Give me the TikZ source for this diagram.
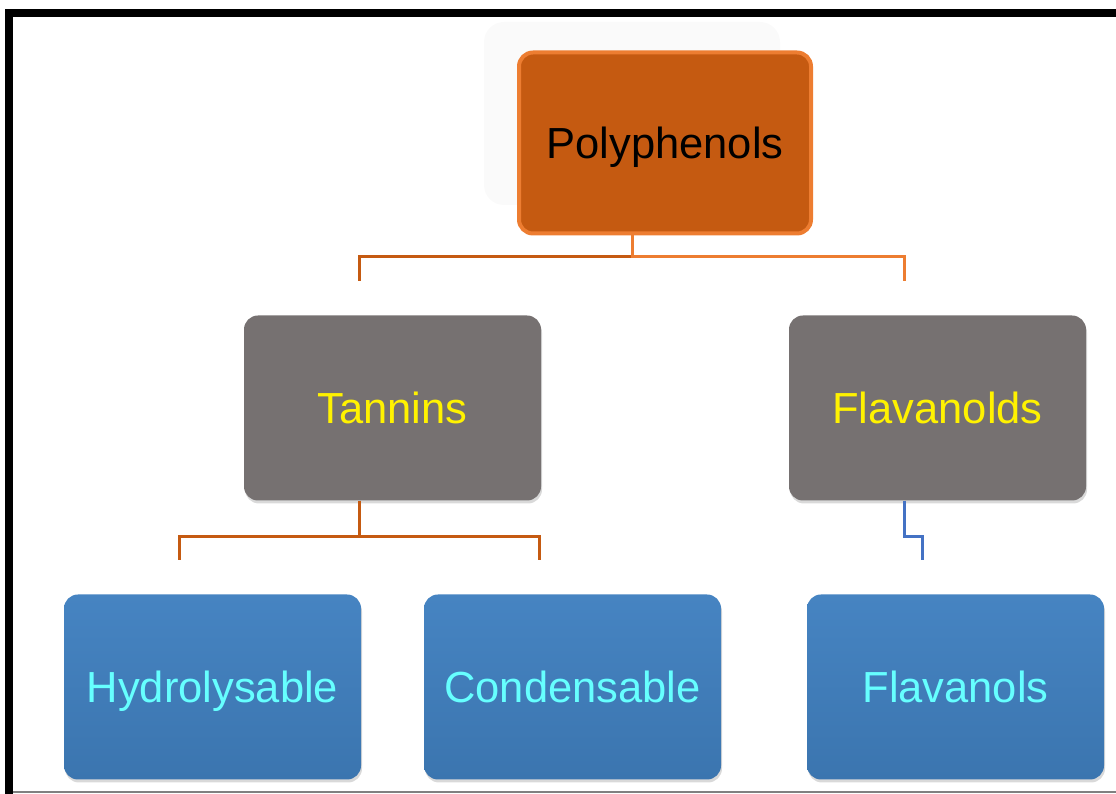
\documentclass[tikz,border=0pt]{standalone}
\usepackage{fontspec}
\setmainfont{Liberation Sans}
\usetikzlibrary{shadows}
\definecolor{polyfill}{HTML}{C55A11}
\definecolor{polyrim}{HTML}{ED7D31}
\definecolor{midgray}{HTML}{767171}
\definecolor{leaftop}{HTML}{4684C2}
\definecolor{leafbottom}{HTML}{3B75AF}
\definecolor{leaftext}{HTML}{66FFFF}
\definecolor{linkblue}{HTML}{4472C4}
\tikzset{
  box/.style={rectangle, rounded corners=14pt, minimum width=297pt, minimum height=185pt,
    inner sep=0pt, text height=36pt, text depth=4pt, font=\fontsize{43.5}{50}\selectfont},
  rootbox/.style={box, minimum width=292pt, minimum height=181pt, fill=polyfill, draw=polyrim, line width=4pt},
  midbox/.style={box, fill=midgray, text=yellow,
    drop shadow={shadow xshift=1pt, shadow yshift=-3pt, opacity=0.3}},
  leafbox/.style={box, top color=leaftop, bottom color=leafbottom, text=leaftext,
    drop shadow={shadow xshift=1pt, shadow yshift=-3pt, opacity=0.3}},
  elbow/.style={edge from parent path={(\tikzparentnode.south) ++(-33pt,0pt) -- ++(0pt,-#1)
    -| ([xshift=-33pt,yshift=34pt]\tikzchildnode.north)}}
}

\begin{document}
\begin{tikzpicture}[x=1pt, y=1pt, level distance=265pt,
    level 1/.style={sibling distance=545pt, elbow=21pt},
    level 2/.style={sibling distance=360pt, level distance=279pt, elbow=36pt},
    edge from parent/.append style={line width=3pt}]
  \useasboundingbox (0,0) rectangle (1116,794);
  % frame
  \fill (5,777) rectangle (1116,785);
  \fill (5,0) rectangle (13,785);
  \draw[gray, line width=1.5pt] (13,2) -- (1116,2);
  % faint panel behind the root
  \fill[black!2, rounded corners=20pt] (484,589) rectangle (780,772);
  \node [rootbox] (poly) at (665,651) {Polyphenols}
    child { node [midbox] (tannins) {Tannins}
      child { node [leafbox] (hydro) {Hydrolysable} edge from parent [draw=polyfill]}
      child { node [leafbox] (conden) {Condensable} edge from parent [draw=polyfill]}
      edge from parent [draw=polyfill]}
    child { node [midbox] (flavanolds) {Flavanolds}
      child { node [leafbox, xshift=18pt] (flavanols) {Flavanols} edge from parent [draw=linkblue]}
      edge from parent [draw=polyrim]};
\end{tikzpicture}
\end{document}
